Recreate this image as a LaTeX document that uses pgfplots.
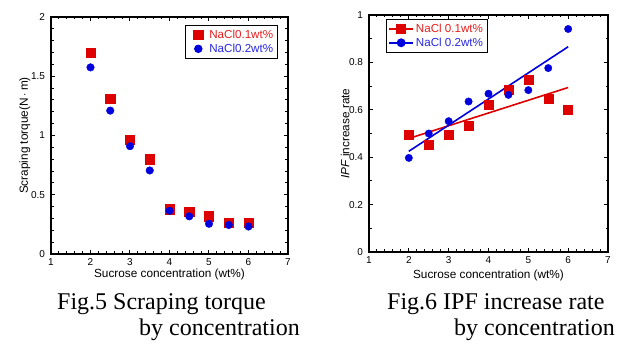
\documentclass[border=0pt]{standalone}
\usepackage{pgfplots}
\pgfplotsset{compat=1.18}
\usepackage{fontspec}
\setmainfont{Liberation Serif}
\newfontfamily\axfont{Liberation Sans}
\definecolor{myred}{RGB}{222,0,0}
\definecolor{myblue}{RGB}{0,0,222}
\definecolor{txtred}{RGB}{230,30,30}
\definecolor{txtblue}{RGB}{40,40,225}
\pgfplotsset{
  mystyle/.style={
    scale only axis, anchor=south west,
    xmin=1, xmax=7, xtick={1,2,...,7}, minor x tick num=4,
    tick align=inside,
    axis line style={line width=1.6pt},
    major tick length=4pt, minor tick length=2.5pt,
    every tick/.style={line width=1pt, black},
    tick label style={font=\axfont\fontsize{10}{10}\selectfont},
    label style={font=\axfont\fontsize{11.8}{12}\selectfont},
    /pgf/number format/assume math mode=true,
    xlabel={Sucrose concentration (wt\%)},
    xticklabel style={yshift=-1pt},
    yticklabel style={xshift=-2.5pt},
    legend style={font=\axfont\fontsize{11.6}{13}\selectfont, draw=black, line width=0.8pt,
      inner xsep=2pt, inner ysep=2.5pt, row sep=0pt},
  }
}
\begin{document}
\begin{tikzpicture}
\useasboundingbox (0pt,0pt) rectangle (619pt,343pt);
% ---------- Fig.5 ----------
\begin{axis}[mystyle, at={(51pt,89pt)}, width=237pt, height=237pt,
  ymin=0, ymax=2, ytick={0,0.5,1,1.5,2}, minor y tick num=4,
  ylabel={Scraping torque(N\,$\cdot$\,m)},
  xlabel style={at={(axis description cs:0.5,-0.088)}, anchor=center},
  ylabel style={at={(axis description cs:-0.11,0.5)}, anchor=center},
  legend style={at={(0.565,0.966)}, anchor=north west},
  legend cell align=left,
  legend image code/.code={\path[draw=none,fill=none] (0pt,-1pt) rectangle (20pt,1pt); \draw[#1] plot coordinates {(11pt,0pt)};},
]
\addplot[only marks, mark=square*, mark size=4.7pt, myred, mark options={draw=none, fill=myred}] coordinates {
(2,1.70) (2.5,1.31) (3,0.965) (3.5,0.80) (4,0.378) (4.5,0.355) (5,0.318) (5.5,0.265) (6,0.265)};
\addlegendentry{\textcolor{txtred}{NaCl0.1wt\%}}
\addplot[only marks, mark=*, mark size=3.8pt, myblue, mark options={draw=none, fill=myblue}] coordinates {
(2,1.575) (2.5,1.21) (3,0.91) (3.5,0.705) (4,0.365) (4.5,0.318) (5,0.255) (5.5,0.245) (6,0.232)};
\addlegendentry{\textcolor{txtblue}{NaCl0.2wt\%}}
\end{axis}
% ---------- Fig.6 ----------
\begin{axis}[mystyle, at={(369pt,91pt)}, width=239pt, height=237pt,
  ymin=0, ymax=1, ytick={0,0.2,0.4,0.6,0.8,1}, minor y tick num=1,
  ylabel={{\itshape IPF} increase rate},
  xlabel style={at={(axis description cs:0.5,-0.097)}, anchor=center},
  ylabel style={at={(axis description cs:-0.1,0.5)}, anchor=center},
  legend style={at={(0.071,0.983)}, anchor=north west},
  legend cell align=left,
  legend image code/.code={\draw[mark repeat=2,mark phase=2,#1] plot coordinates {(0pt,0pt)(12pt,0pt)(24pt,0pt)};},
]
\addlegendimage{myred, line width=1.6pt, mark=square*, mark size=4.3pt, mark options={draw=none, fill=myred}}
\addlegendentry{\textcolor{txtred}{NaCl 0.1wt\%}}
\addlegendimage{myblue, line width=1.6pt, mark=*, mark size=3.6pt, mark options={draw=none, fill=myblue}}
\addlegendentry{\textcolor{txtblue}{NaCl 0.2wt\%}}
\addplot[myred, line width=1.6pt, forget plot] coordinates {(2,0.479) (6,0.694)};
\addplot[myblue, line width=1.6pt, forget plot] coordinates {(2,0.425) (6,0.866)};
\addplot[only marks, mark=square*, mark size=4.5pt, myred, mark options={draw=none, fill=myred}, forget plot] coordinates {
(2,0.493) (2.5,0.454) (3,0.493) (3.5,0.531) (4,0.623) (4.5,0.683) (5,0.725) (5.5,0.648) (6,0.599)};
\addplot[only marks, mark=*, mark size=3.7pt, myblue, mark options={draw=none, fill=myblue}, forget plot] coordinates {
(2,0.397) (2.5,0.500) (3,0.552) (3.5,0.635) (4,0.668) (4.5,0.663) (5,0.683) (5.5,0.776) (6,0.941)};
\end{axis}
% ---------- captions ----------
\node[anchor=base west, inner sep=0pt, font=\fontsize{24}{24}\selectfont] at (57pt,33pt) {Fig.5 Scraping torque};
\node[anchor=base east, inner sep=0pt, font=\fontsize{24}{24}\selectfont] at (300pt,8pt) {by concentration};
\node[anchor=base west, inner sep=0pt, font=\fontsize{24}{24}\selectfont] at (387pt,33pt) {Fig.6 IPF increase rate};
\node[anchor=base east, inner sep=0pt, font=\fontsize{24}{24}\selectfont] at (615pt,8pt) {by concentration};
\end{tikzpicture}
\end{document}
